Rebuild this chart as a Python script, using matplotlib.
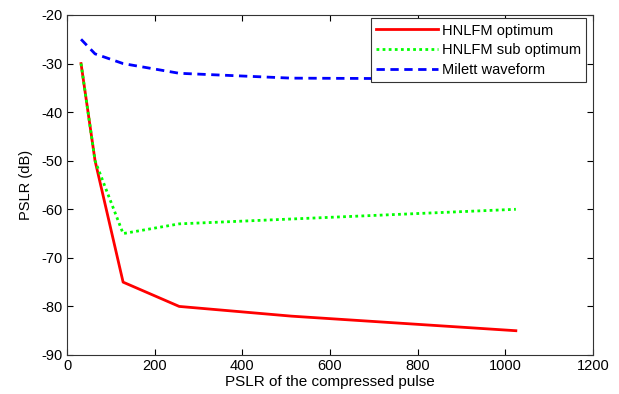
import matplotlib
matplotlib.use("Agg")
import matplotlib.pyplot as plt

plt.rcParams['font.family'] = ['Liberation Sans', 'DejaVu Sans']
plt.rcParams['axes.unicode_minus'] = False

x_opt = [32, 64, 128, 256, 512, 1024]
y_opt = [-30, -50, -75, -80, -82, -85]
x_sub = [32, 64, 128, 256, 512, 1024]
y_sub = [-30, -50, -65, -63, -62, -60]
x_mil = [32, 64, 128, 256, 512, 1024]
y_mil = [-25, -28, -30, -32, -33, -33.2]

xticks = [0, 200, 400, 600, 800, 1000, 1200]
yticks = [-90, -80, -70, -60, -50, -40, -30, -20]

fig = plt.figure(figsize=(6.19, 3.94), dpi=100)
ax = fig.add_axes([67/619, 1 - 355/394, (593-67)/619, (355-15)/394])

ax.plot(x_opt, y_opt, color='#ff0000', lw=2, label='HNLFM optimum')
ax.plot(x_sub, y_sub, color='#00ff00', lw=2, ls=(0, (1, 1.2)), label='HNLFM sub optimum')
ax.plot(x_mil, y_mil, color='#0000ff', lw=2, ls=(0, (3, 2)), label='Milett waveform')

ax.set_xlim(0, 1200)
ax.set_ylim(-90, -20)
ax.set_xticks(xticks)
ax.set_yticks(yticks)
ax.tick_params(direction='in', top=True, right=True, labelsize=10.5, length=4, width=0.8, pad=3)
for s in ax.spines.values():
    s.set_linewidth(0.8)
    s.set_color('#333333')
ax.set_xlabel('PSLR of the compressed pulse', fontsize=11, labelpad=1)
ax.set_ylabel('PSLR (dB)', fontsize=10.5, labelpad=6)

leg = ax.legend(loc='upper right', bbox_to_anchor=(0.987, 0.99), fontsize=10.5,
                frameon=True, fancybox=False, edgecolor='#333333', framealpha=1,
                handlelength=4.2, handletextpad=0.3, borderpad=0.35,
                labelspacing=0.4, borderaxespad=0)
leg.get_frame().set_linewidth(0.8)

fig.savefig('out.png', dpi=100)
